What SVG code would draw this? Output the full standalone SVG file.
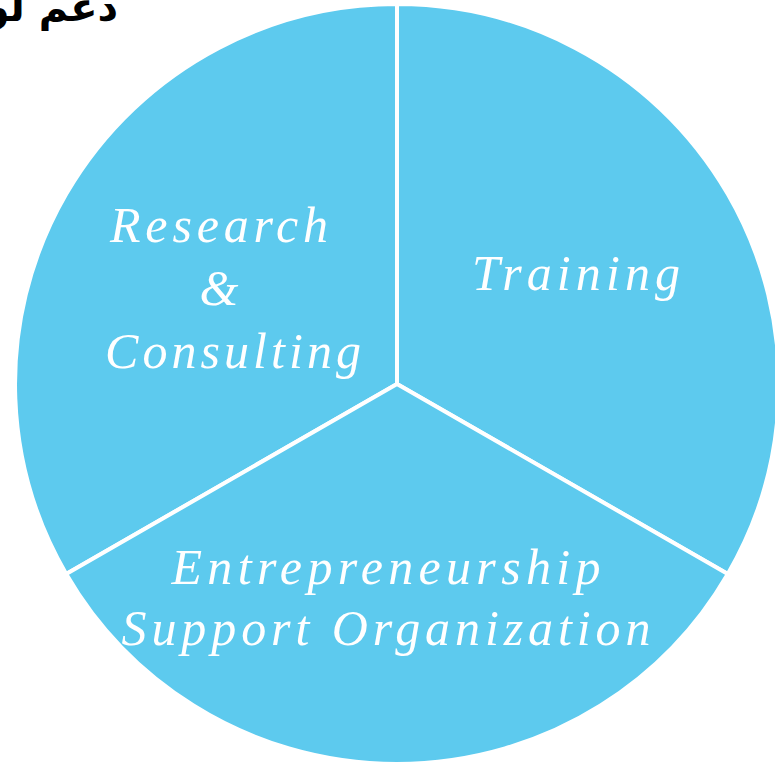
<svg xmlns="http://www.w3.org/2000/svg" width="775" height="766" viewBox="0 0 775 766">
<style>
.seg{fill:#5DCAEE;stroke:#FFFFFF;stroke-width:4;stroke-linejoin:miter}
.lbl{font-family:"Liberation Serif","DejaVu Serif",serif;font-style:italic;font-size:50px;fill:#FFFFFF}
.ar{font-family:"DejaVu Sans","Noto Sans",sans-serif;font-weight:bold;font-size:40px;fill:#000000}
</style>
<rect width="775" height="766" fill="#FFFFFF"/>
<text class="ar" x="118" y="21" text-anchor="end">دعم لوجستي</text>
<g id="research">
<path class="seg" d="M397,384 L397,4 A382,380 0 0 0 66.2,574 Z"/>
<text class="lbl" x="219" y="242" text-anchor="middle" textLength="218" lengthAdjust="spacing">Research</text>
<text class="lbl" x="219" y="305" text-anchor="middle">&amp;</text>
<text class="lbl" x="233" y="368" text-anchor="middle" textLength="256" lengthAdjust="spacing">Consulting</text>
</g>
<g id="training">
<path class="seg" d="M397,384 L397,4 A382,380 0 0 1 727.8,574 Z"/>
<text class="lbl" x="576" y="290" text-anchor="middle" textLength="208" lengthAdjust="spacing">Training</text>
</g>
<g id="eso">
<path class="seg" d="M397,384 L727.8,574 A382,380 0 0 1 66.2,574 Z"/>
<text class="lbl" x="386" y="584" text-anchor="middle" textLength="429" lengthAdjust="spacing">Entrepreneurship</text>
<text class="lbl" x="386" y="645" text-anchor="middle" textLength="529" lengthAdjust="spacing">Support Organization</text>
</g>
<g id="connectors"></g>
</svg>
